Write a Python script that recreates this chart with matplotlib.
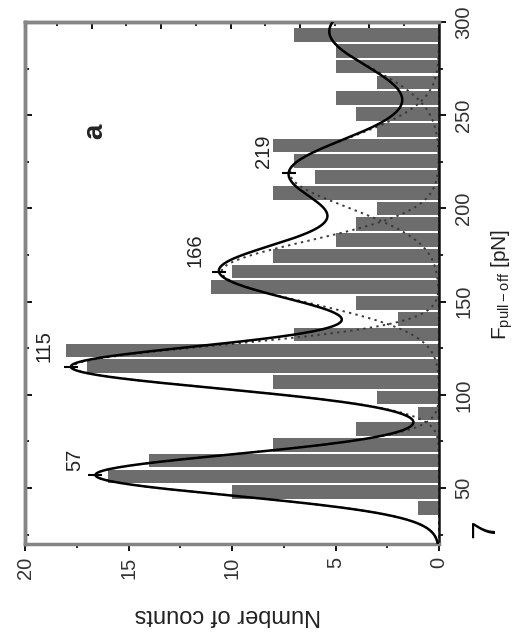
"""Pull-off force histogram with multi-Gaussian fit (figure drawn rotated, as in the scan)."""

import matplotlib
matplotlib.use("Agg")
import matplotlib.pyplot as plt
import numpy as np
from matplotlib.ticker import FixedLocator, MultipleLocator

plt.rcParams["font.family"] = ["Liberation Sans", "DejaVu Sans"]
plt.rcParams["mathtext.fontset"] = "custom"
plt.rcParams["mathtext.rm"] = "Liberation Sans"

# histogram bins (pull-off force, pN) and counts
bin_centers = [39.4, 47.9, 56.3, 64.8, 73.2, 81.7, 90.1, 98.6, 107.0, 115.5,
               123.9, 132.4, 140.8, 149.3, 157.7, 166.2, 174.6, 183.1, 191.5,
               200.0, 208.4, 216.9, 225.3, 233.8, 242.2, 250.7, 259.1, 267.6,
               276.0, 284.5, 292.9]
counts = [1, 10, 16, 14, 8, 4, 1, 3, 8, 17, 18, 7, 2, 4, 11, 10, 8, 5, 4, 3,
          8, 6, 7, 8, 3, 4, 5, 3, 5, 5, 7]
bin_width = 8.45

# fitted Gaussian components: centre, height, width (pN)
peak_centers = [57, 115, 166, 219, 295]
peak_heights = [16.6, 17.7, 10.5, 7.2, 5.3]
peak_widths = [11.0, 11.5, 16.5, 18.7, 20.0]
labelled_peaks = 4

# label positions (count, force) next to each labelled peak
label_pos = [(17.6, 65.3), (19.1, 126.0), (11.8, 177.5), (8.5, 230.5)]

top_major = [0, 3.36, 6.71, 10.07, 13.42, 16.78]
top_minor = [1.68, 5.03, 8.39, 11.74, 15.10, 18.45]


def main() -> None:
    force = np.linspace(20, 300, 600)
    comps = [h * np.exp(-(force - c) ** 2 / (2 * w ** 2))
             for c, h, w in zip(peak_centers, peak_heights, peak_widths)]
    total = np.sum(comps, axis=0)

    fig = plt.figure(figsize=(5.18, 6.39), dpi=100)
    ax = fig.add_axes([0.0483, 0.1487, 0.7992, 0.8169])

    ax.barh(bin_centers, counts, height=bin_width * 0.86, color="#6d6d6d", zorder=1)
    for comp in comps:
        ax.plot(comp, force, color="#3a3a3a", lw=1.4, ls=(0, (1.2, 2.2)), zorder=2)
    ax.plot(total, force, color="k", lw=1.8, zorder=3)

    for i in range(labelled_peaks):
        c = peak_centers[i]
        tip = np.interp(c, force, total)
        ax.plot([tip], [c], marker="_", ms=10, mew=1.5, color="k", zorder=4)
        x, y = label_pos[i]
        ax.text(x, y, str(c), rotation=90, ha="center", va="center",
                fontsize=14.5, color="#222")
    ax.text(16.6, 241.6, "a", rotation=90, ha="center", va="center",
            fontsize=20, fontweight="bold", color="#222")

    ax.set_xlim(20, 0)
    ax.set_ylim(20, 300)
    ax.xaxis.set_major_locator(MultipleLocator(5))
    ax.xaxis.set_minor_locator(MultipleLocator(2.5))
    ax.yaxis.set_major_locator(FixedLocator([50, 100, 150, 200, 250, 300]))
    ax.yaxis.set_minor_locator(MultipleLocator(25))
    ax.yaxis.tick_right()
    ax.yaxis.set_label_position("right")

    ax.tick_params(axis="both", which="major", direction="out", length=5,
                   width=1.3, labelsize=14.5, labelcolor="#333")
    ax.tick_params(axis="both", which="minor", direction="out", length=3, width=1.2)
    ax.tick_params(axis="x", labelrotation=90, pad=4)
    ax.tick_params(axis="y", labelrotation=90, pad=6)
    plt.setp(ax.get_yticklabels(), va="center")

    for side in ("left", "top", "bottom"):
        ax.spines[side].set_color("#858585")
        ax.spines[side].set_linewidth(2.5)
    ax.spines["right"].set_color("#111")
    ax.spines["right"].set_linewidth(1.8)

    top = ax.secondary_xaxis("top")
    top.set_xticks(top_major)
    top.set_xticks(top_minor, minor=True)
    top.tick_params(which="major", direction="in", length=5, width=1.3, labeltop=False)
    top.tick_params(which="minor", direction="in", length=3, width=1.2)
    top.spines["top"].set_color("#858585")
    top.spines["top"].set_linewidth(2.5)

    left = ax.secondary_yaxis("left")
    left.set_yticks([50, 100, 150, 200, 250, 300])
    left.yaxis.set_minor_locator(MultipleLocator(25))
    left.tick_params(which="major", direction="in", length=5, width=1.3, labelleft=False)
    left.tick_params(which="minor", direction="in", length=3, width=1.2)
    left.spines["left"].set_color("#858585")
    left.spines["left"].set_linewidth(2.5)

    ax.set_xlabel("Number of counts", rotation=180, fontsize=17, va="center", color="#222")
    ax.xaxis.set_label_coords(0.489, -0.136)
    ax.set_ylabel(r"$\mathregular{F_{pull-off}}$ [pN]", rotation=90, fontsize=15,
                  va="center", ha="center", color="#222")
    ax.yaxis.set_label_coords(1.152, 0.498)

    fig.text(486 / 518, 1 - 529 / 639, "7", rotation=90, ha="center", va="center",
             fontsize=24, color="k")

    fig.savefig("out.png", dpi=100)


if __name__ == "__main__":
    main()
